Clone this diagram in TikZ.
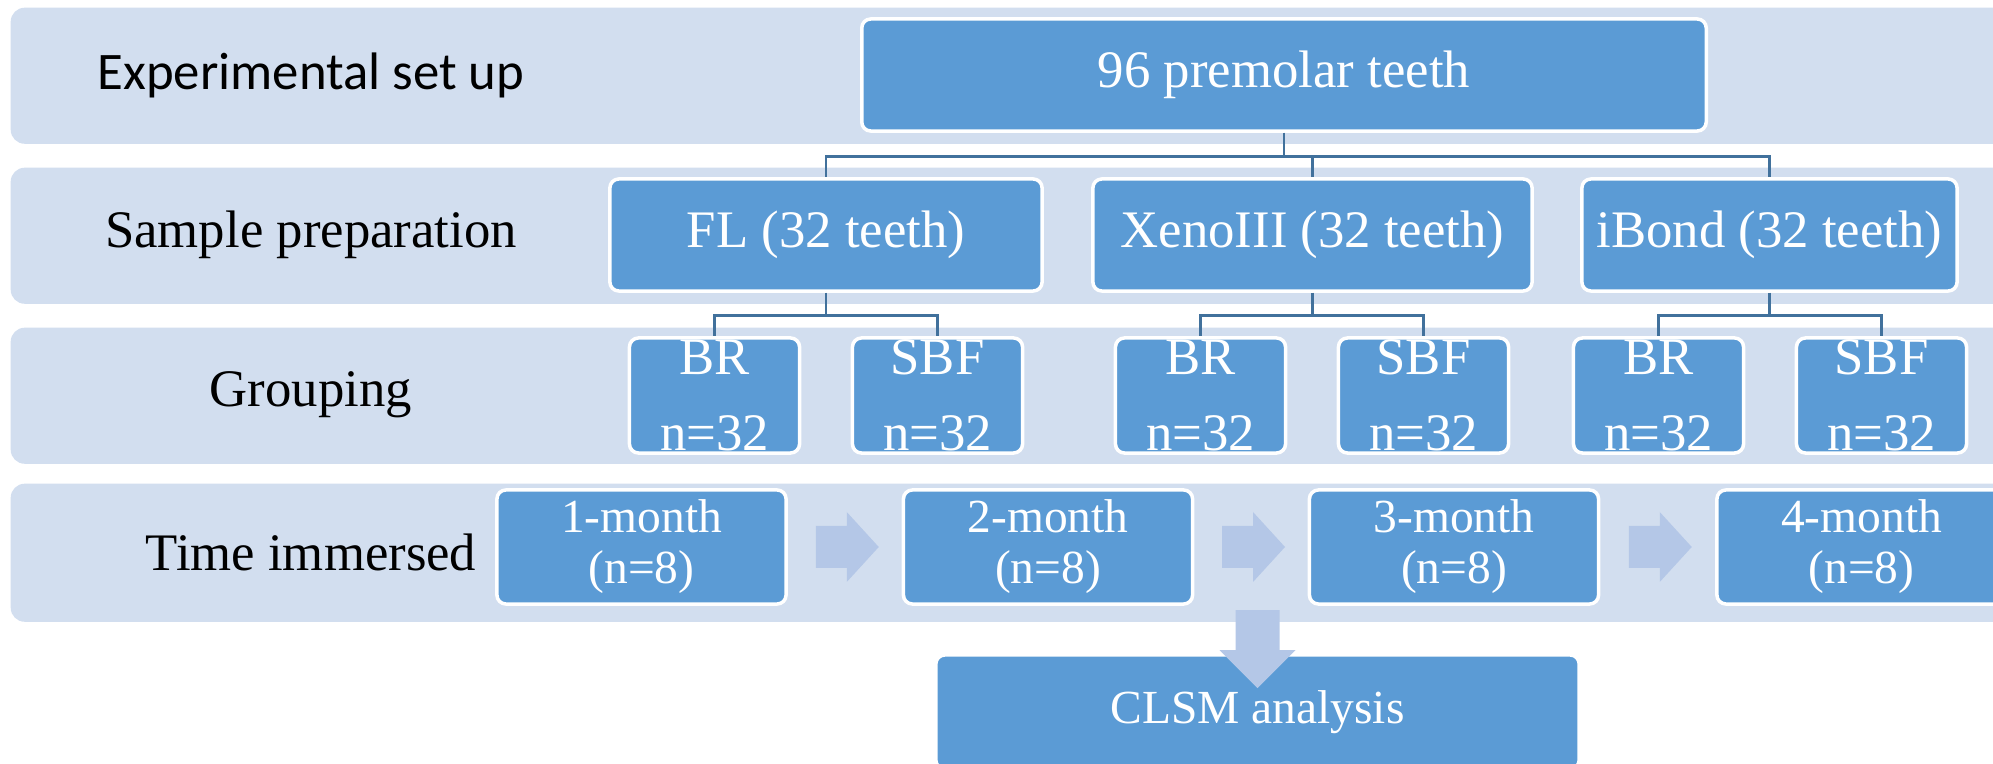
\documentclass[tikz,border=0pt]{standalone}
\usepackage{fontspec}
\setmainfont{Liberation Serif}
\newfontfamily\labelsans{Carlito}
\usetikzlibrary{positioning,calc}
\definecolor{bandfill}{HTML}{D2DEEF}
\definecolor{boxfill}{HTML}{5B9BD5}
\definecolor{linkblue}{HTML}{41719C}
\definecolor{arrowfill}{HTML}{B4C7E7}

\begin{document}
\begin{tikzpicture}
[x=0.01cm,y=-0.01cm,
band/.style = {fill=bandfill, rounded corners=0.14cm, anchor=north west, minimum height=1.36cm, minimum width=20.5cm, inner sep=0pt},
rowlabel/.style = {font=\fontsize{15}{18}\selectfont, text=black},
box/.style = {draw=white, line width=1pt, fill=boxfill, rounded corners=0.09cm, text=white, align=center, inner sep=0pt, font=\fontsize{15}{18}\selectfont},
grpbox/.style = {box, minimum width=1.7cm, minimum height=1.15cm, font=\fontsize{15}{21.6}\selectfont},
timebox/.style = {box, minimum width=2.89cm, minimum height=1.14cm, font=\fontsize{13.5}{14.5}\selectfont},
link/.style = {draw=linkblue, line width=0.8pt},
rarrow/.pic = {\fill[arrowfill] (-29,-21) -- (2,-21) -- (2,-35) -- (34,0) -- (2,35) -- (2,21) -- (-29,21) -- cycle;},
darrow/.pic = {\fill[arrowfill] (-22,0) -- (22,0) -- (22,40) -- (38,40) -- (0,78) -- (-38,40) -- (-22,40) -- cycle;},
]
\useasboundingbox (0,0) rectangle (1993,764);
\clip (0,0) rectangle (1993,764);

% rows
\node (row1) at (10,7) [band] {};
\node (row2) at (10,167) [band] {};
\node (row3) at (10,327) [band] {};
\node (row4) at (10,483) [band, minimum height=1.38cm] {};
\node (lab1) at (311,75) [rowlabel, font=\labelsans\fontsize{15}{18}\selectfont] {Experimental set up};
\node (lab2) at (311,235) [rowlabel] {Sample preparation};
\node (lab3) at (311,395) [rowlabel] {Grouping};
\node (lab4) at (311,552) [rowlabel] {Time immersed};

% tree
\node (teeth) at (1284,75) [box, minimum width=8.44cm, minimum height=1.12cm] {96 premolar teeth};
\node (fl) at (826,235) [box, minimum width=4.32cm, minimum height=1.12cm] {FL (32 teeth)};
\node (xeno) at (1312.5,235) [box, minimum width=4.39cm, minimum height=1.12cm] {XenoIII (32 teeth)};
\node (ibond) at (1769.5,235) [box, minimum width=3.75cm, minimum height=1.12cm] {iBond (32 teeth)};
\node (br1) at (714.5,395.5) [grpbox] {BR\\n=32};
\node (sbf1) at (937.5,395.5) [grpbox] {SBF\\n=32};
\node (br2) at (1200.5,395.5) [grpbox] {BR\\n=32};
\node (sbf2) at (1423.5,395.5) [grpbox] {SBF\\n=32};
\node (br3) at (1658.5,395.5) [grpbox] {BR\\n=32};
\node (sbf3) at (1881.5,395.5) [grpbox] {SBF\\n=32};

\foreach \c in {fl,xeno,ibond}
  \draw[link] (teeth.south) -- ++(0,24) -| (\c.north);
\foreach \p/\b/\s in {fl/br1/sbf1, xeno/br2/sbf2, ibond/br3/sbf3}{
  \draw[link] (\p.south) -- ++(0,23) -| (\b.north);
  \draw[link] (\p.south) -- ++(0,23) -| (\s.north);
}

% time line
\node (m1) at (641.5,547) [timebox] {1-month\\(n=8)};
\node (m2) at (1048,547) [timebox] {2-month\\(n=8)};
\node (m3) at (1454,547) [timebox] {3-month\\(n=8)};
\node (m4) at (1861.5,547) [timebox] {4-month\\(n=8)};
\foreach \a/\b in {m1/m2, m2/m3, m3/m4}
  \pic at ($(\a.east)!0.5!(\b.west)$) {rarrow};

\node (clsm) at (1257.5,712) [box, minimum width=6.43cm, minimum height=1.14cm, font=\fontsize{13.5}{16}\selectfont] {CLSM analysis};
\pic at ($(clsm.north)+(0,-43)$) {darrow};

\end{tikzpicture}
\end{document}
